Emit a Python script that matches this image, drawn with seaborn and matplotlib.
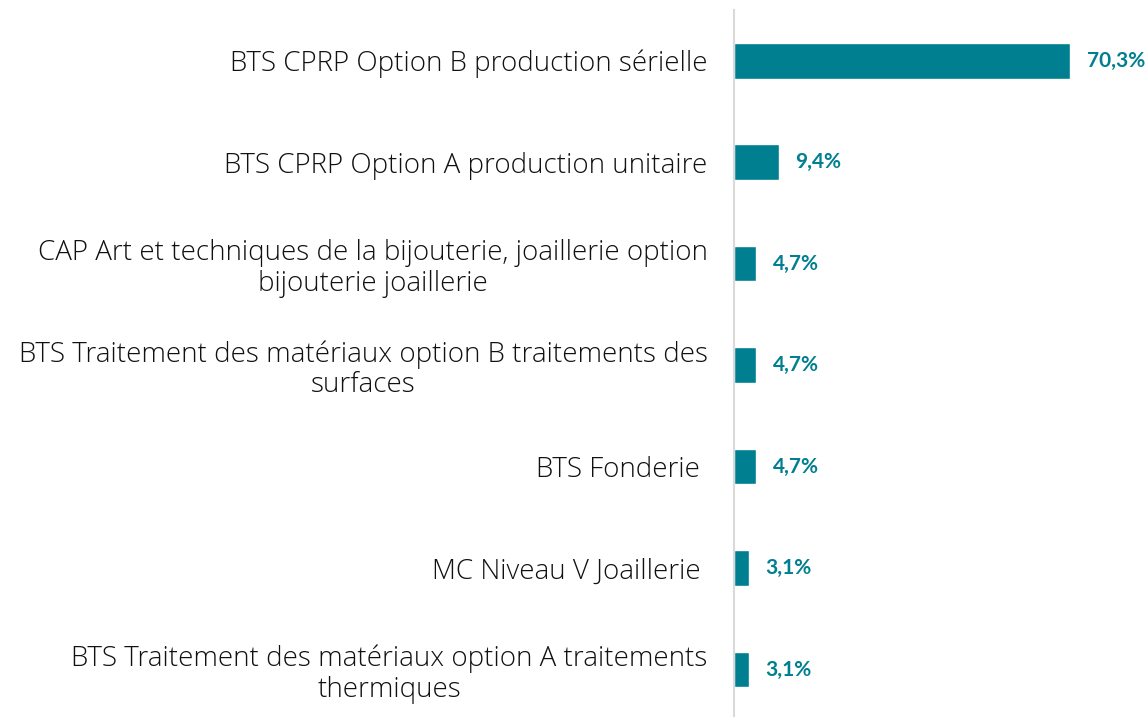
import matplotlib
matplotlib.use("Agg")
import matplotlib.pyplot as plt
import seaborn as sns
import pandas as pd

formations = [
    "BTS CPRP Option B production sérielle",
    "BTS CPRP Option A production unitaire",
    "CAP Art et techniques de la bijouterie, joaillerie option\nbijouterie joaillerie",
    "BTS Traitement des matériaux option B traitements des\nsurfaces",
    "BTS Fonderie ",
    "MC Niveau V Joaillerie ",
    "BTS Traitement des matériaux option A traitements\nthermiques",
]
parts = [70.3, 9.4, 4.7, 4.7, 4.7, 3.1, 3.1]
value_labels = ["70,3%", "9,4%", "4,7%", "4,7%", "4,7%", "3,1%", "3,1%"]

teal = "#007F91"

sns.set_theme(style="white")
plt.rcParams["font.family"] = ["Open Sans", "DejaVu Sans"]

df = pd.DataFrame({"formation": formations, "part": parts})

fig = plt.figure(figsize=(11.48, 7.17), dpi=100)
px_per_unit = 4.78
xmax = 80
ax = fig.add_axes([734 / 1148, 0, xmax * px_per_unit / 1148, 707 / 717])

sns.barplot(data=df, x="part", y="formation", orient="h", color=teal,
            width=0.35, saturation=1, ax=ax)

ax.set_xlim(0, xmax)
ax.set_ylim(6.466, -0.5)
ax.set_xlabel("")
ax.set_ylabel("")
ax.set_xticks([])
ax.set_yticks(range(len(formations)))
ax.set_yticklabels(formations, fontsize=20, color="#111111", fontweight="light",
                   multialignment="center", linespacing=1.12)
ax.tick_params(axis="y", length=0, pad=19)

for side in ["top", "right", "bottom"]:
    ax.spines[side].set_visible(False)
ax.spines["left"].set_color("#d9d9d9")
ax.spines["left"].set_linewidth(1.5)

for i, (v, lab) in enumerate(zip(parts, value_labels)):
    ax.annotate(lab, xy=(v, i), xytext=(12, 0), textcoords="offset points",
                va="center", ha="left", fontsize=15, fontweight="bold",
                color=teal, family=["Lato", "DejaVu Sans"])

fig.savefig("out.png", dpi=100)
